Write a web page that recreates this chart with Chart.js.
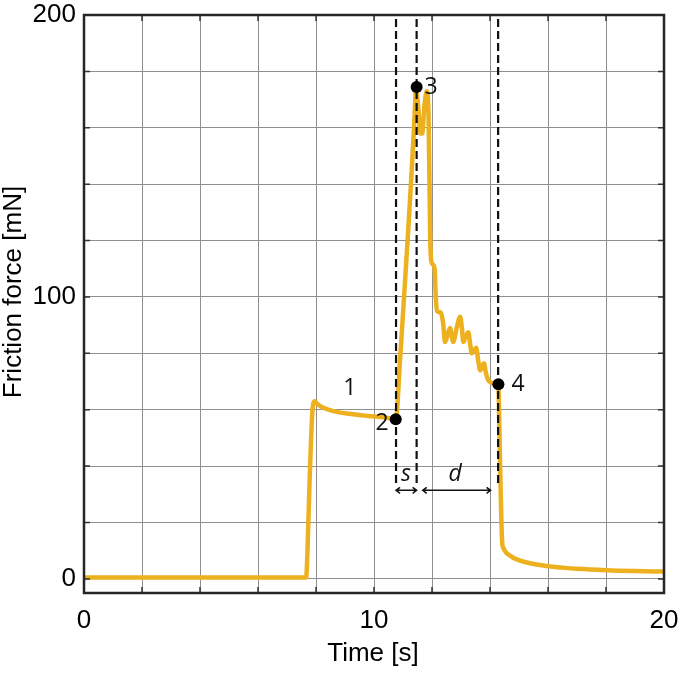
<!DOCTYPE html>
<html>
<head>
<meta charset="utf-8">
<script src="https://cdn.jsdelivr.net/npm/chart.js@4"></script>
<style>
  body { margin: 0; background: #fff; }
  #wrap { width: 685px; height: 673px; position: relative; }
</style>
</head>
<body>
<div id="wrap"><canvas id="frictionChart"></canvas></div>
<script>
// Friction force trace
const time = [0, 7.66, 7.70, 7.78, 7.88, 7.95, 8.05, 8.2, 8.6, 9.2, 9.8, 10.4, 10.75,
  10.9, 11.03, 11.17, 11.29, 11.38, 11.45, 11.52, 11.6, 11.66, 11.74, 11.82, 11.88,
  11.94, 11.97, 12.03, 12.09, 12.13, 12.17, 12.3, 12.38, 12.45, 12.52, 12.62, 12.68,
  12.73, 12.85, 12.97, 13.03, 13.08, 13.17, 13.25, 13.32, 13.37, 13.45, 13.52, 13.6,
  13.66, 13.73, 13.79, 13.86, 13.94, 14.06, 14.2, 14.29, 14.32, 14.37, 14.42, 14.46,
  14.55, 14.7, 14.9, 15.2, 15.6, 16, 16.5, 17, 18, 19, 20];
const force = [0.5, 0.5, 8, 35, 60, 63, 62, 61, 59.5, 58.5, 57.8, 57.2, 56.6,
  78, 99, 122, 143, 160, 173.5, 168, 158, 158, 168, 173, 165,
  120, 113, 111.5, 110, 100, 95, 94.5, 91, 84, 86, 89, 86,
  84, 89, 93, 89, 84, 86, 87.5, 83, 80, 81, 82, 77,
  74, 75.5, 76.5, 73, 70.5, 69.5, 69, 69, 55, 30, 13, 11,
  9.4, 8.2, 7.0, 6.0, 5.1, 4.5, 4.0, 3.6, 3.1, 2.8, 2.6];

// marked points 2, 3, 4 and their dashed guide lines
const markT = [10.75, 11.47, 14.29];
const markF = [56.6, 174.5, 69];
const guideT = [10.76, 11.47, 14.28];
const guideBottom = 34;

// numbered labels
const labelText = ['1', '2', '3', '4'];
const labelT = [9.17, 10.28, 11.97, 14.97];
const labelF = [67.7, 55, 174.2, 69];

// s and d spans
const spanName = ['s', 'd'];
const spanFrom = [10.76, 11.68];
const spanTo = [11.47, 14.02];
const spanTextT = [11.1, 12.8];
const spanY = 31.4;
const spanTextY = 34.7;

const xTicks = [0, 2, 4, 6, 8, 10, 12, 14, 16, 18, 20];
const xLabels = [0, 10, 20];
const yTicks = [0, 20, 40, 60, 80, 100, 120, 140, 160, 180, 200];
const yLabels = [0, 100, 200];

const axisFont = '"Liberation Sans", Arial, sans-serif';
const noteFont = '"Open Sans", sans-serif';

const overlay = {
  id: 'overlay',
  afterDatasetsDraw(chart) {
    const { ctx, scales: { x, y } } = chart;
    ctx.save();
    // span arrows
    ctx.strokeStyle = '#111';
    ctx.fillStyle = '#111';
    ctx.lineWidth = 1.5;
    spanFrom.forEach((t0, i) => {
      const x1 = x.getPixelForValue(t0);
      const x2 = x.getPixelForValue(spanTo[i]);
      const yy = y.getPixelForValue(spanY);
      ctx.beginPath();
      ctx.moveTo(x1, yy); ctx.lineTo(x2, yy);
      ctx.moveTo(x1 + 4, yy - 3); ctx.lineTo(x1, yy); ctx.lineTo(x1 + 4, yy + 3);
      ctx.moveTo(x2 - 4, yy - 3); ctx.lineTo(x2, yy); ctx.lineTo(x2 - 4, yy + 3);
      ctx.stroke();
      ctx.font = 'italic 23px ' + noteFont;
      ctx.textAlign = 'center';
      ctx.textBaseline = 'alphabetic';
      ctx.fillText(spanName[i], x.getPixelForValue(spanTextT[i]), y.getPixelForValue(spanTextY));
    });
    // numbers
    ctx.font = '23px ' + noteFont;
    ctx.textAlign = 'center';
    ctx.textBaseline = 'middle';
    labelText.forEach((s, i) => {
      ctx.fillText(s, x.getPixelForValue(labelT[i]), y.getPixelForValue(labelF[i]));
    });
    ctx.restore();
  },
  afterDraw(chart) {
    const { ctx, chartArea: a, scales: { x, y } } = chart;
    ctx.save();
    // inward tick marks
    ctx.strokeStyle = '#333';
    ctx.lineWidth = 1.5;
    ctx.beginPath();
    xTicks.forEach(v => {
      const px = x.getPixelForValue(v);
      ctx.moveTo(px, a.bottom); ctx.lineTo(px, a.bottom - 6);
      ctx.moveTo(px, a.top); ctx.lineTo(px, a.top + 6);
    });
    yTicks.forEach(v => {
      const py = y.getPixelForValue(v);
      ctx.moveTo(a.left, py); ctx.lineTo(a.left + 6, py);
      ctx.moveTo(a.right, py); ctx.lineTo(a.right - 6, py);
    });
    ctx.stroke();
    // box
    ctx.strokeStyle = '#262626';
    ctx.lineWidth = 2.5;
    ctx.strokeRect(a.left, a.top, a.right - a.left, a.bottom - a.top);
    // axis titles
    ctx.fillStyle = '#000';
    ctx.font = '26px ' + axisFont;
    ctx.textAlign = 'center';
    ctx.textBaseline = 'middle';
    ctx.fillText('Time [s]', 373, 654);
    ctx.translate(14, 292);
    ctx.rotate(-Math.PI / 2);
    ctx.fillText('Friction force [mN]', 0, 0);
    ctx.restore();
  }
};

const ctx = document.getElementById('frictionChart').getContext('2d');
new Chart(ctx, {
  type: 'line',
  data: {
    datasets: [
      {
        type: 'scatter',
        data: markT.map((t, i) => ({ x: t, y: markF[i] })),
        pointRadius: 6,
        pointBackgroundColor: '#000',
        pointBorderWidth: 0,
        order: 1
      },
      ...guideT.map(t => ({
        data: [{ x: t, y: guideBottom }, { x: t, y: 200 }],
        borderColor: '#111',
        borderWidth: 2.2,
        borderDash: [8, 4],
        pointRadius: 0,
        order: 2
      })),
      {
        data: time.map((t, i) => ({ x: t, y: force[i] })),
        borderColor: '#EDB120',
        borderWidth: 4.5,
        pointRadius: 0,
        cubicInterpolationMode: 'monotone',
        order: 3
      }
    ]
  },
  options: {
    responsive: true,
    maintainAspectRatio: false,
    animation: false,
    layout: { padding: { left: 0, right: 21, top: 15, bottom: 0 } },
    plugins: { legend: { display: false }, tooltip: { enabled: false } },
    scales: {
      x: {
        type: 'linear',
        min: 0,
        max: 20,
        afterBuildTicks: s => { s.ticks = xTicks.map(v => ({ value: v })); },
        afterFit: s => { s.height = 80; s.paddingLeft = 0; s.paddingRight = 0; },
        grid: { color: '#8f8f8f', lineWidth: 1, drawTicks: false },
        border: { display: false },
        ticks: {
          autoSkip: false,
          maxRotation: 0,
          padding: 12,
          color: '#000',
          font: { family: axisFont, size: 26 },
          callback: v => xLabels.includes(v) ? String(v) : ''
        }
      },
      y: {
        min: -5,
        max: 200,
        afterBuildTicks: s => { s.ticks = yTicks.map(v => ({ value: v })); },
        afterFit: s => { s.width = 84; s.paddingTop = 0; s.paddingBottom = 0; },
        grid: { color: '#8f8f8f', lineWidth: 1, drawTicks: false },
        border: { display: false },
        ticks: {
          autoSkip: false,
          padding: 8,
          color: '#000',
          font: { family: axisFont, size: 26 },
          callback: v => yLabels.includes(v) ? String(v) : ''
        }
      }
    }
  },
  plugins: [overlay]
});
</script>
</body>
</html>
